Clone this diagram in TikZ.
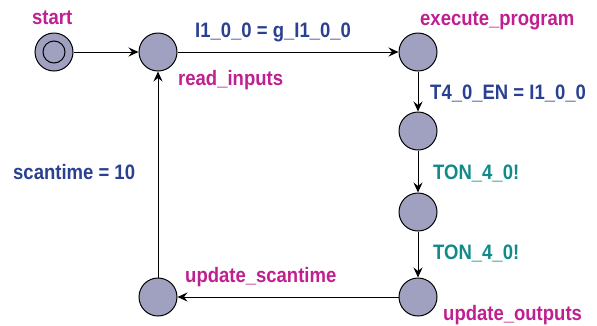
\documentclass[tikz,border=0pt]{standalone}
\usepackage{fontspec}
\usepackage{graphicx}
\setmainfont{Liberation Sans}
\usetikzlibrary{arrows.meta}
\definecolor{locfill}{HTML}{A0A0C0}
\definecolor{locname}{HTML}{C0208F}
\definecolor{assigncol}{HTML}{2A4090}
\definecolor{synccol}{HTML}{138A8A}
% labels are set slightly taller than the plain font
\newcommand{\tall}[1]{\scalebox{1}[1.13]{#1}}
\tikzset{
  loc/.style={circle, draw=black, line width=1pt, fill=locfill, minimum size=38pt, inner sep=0pt},
  initring/.style={circle, draw=black, line width=1pt, minimum size=22pt, inner sep=0pt},
  edge/.style={draw=black, line width=1pt, -{Stealth[length=10pt, width=9pt, inset=3.5pt]}},
  lbl/.style={anchor=base west, inner sep=0pt, font=\bfseries\fontsize{18.5}{20}\selectfont},
  locnm/.style={lbl, text=locname},
  assign/.style={lbl, text=assigncol},
  sync/.style={lbl, text=synccol}
}
\begin{document}
\begin{tikzpicture}[x=1pt, y=-1pt]
  \useasboundingbox (0,0) rectangle (597,325);
  % locations
  \node[loc] (start) at (54,52) {};
  \node[initring] (startin) at (54,52) {};
  \node[loc] (read) at (158,52) {};
  \node[loc] (exec) at (418,52) {};
  \node[loc] (ton1) at (418,131) {};
  \node[loc] (ton2) at (418,212) {};
  \node[loc] (upout) at (418,297) {};
  \node[loc] (upscan) at (158,297) {};
  % transitions
  \draw[edge] (start) -- (read);
  \draw[edge] (read) -- (exec);
  \draw[edge] (exec) -- (ton1);
  \draw[edge] (ton1) -- (ton2);
  \draw[edge] (ton2) -- (upout);
  \draw[edge] (upout) -- (upscan);
  \draw[edge] (upscan) -- (read);
  % location names
  \node[locnm] (nstart) at (32,24.5) {\tall{start}};
  \node[locnm] (nread) at (178,85) {\tall{read\_inputs}};
  \node[locnm] (nexec) at (420,25) {\tall{execute\_program}};
  \node[locnm] (nupout) at (443,320) {\tall{update\_outputs}};
  \node[locnm] (nupscan) at (185,282) {\tall{update\_scantime}};
  % edge labels
  \node[assign] (a1) at (195,37) {\tall{I1\_0\_0 = g\_I1\_0\_0}};
  \node[assign] (a2) at (430,99) {\tall{T4\_0\_EN = I1\_0\_0}};
  \node[sync] (s1) at (433,179) {\tall{TON\_4\_0!}};
  \node[sync] (s2) at (433,259) {\tall{TON\_4\_0!}};
  \node[assign] (a3) at (13,179) {\tall{scantime = 10}};
\end{tikzpicture}
\end{document}
